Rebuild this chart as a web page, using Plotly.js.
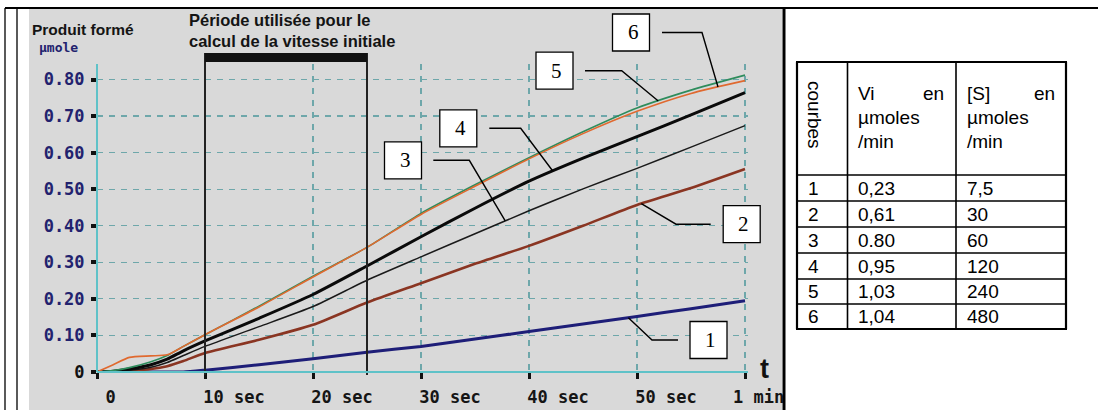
<!DOCTYPE html>
<html><head><meta charset="utf-8">
<script src="https://cdn.plot.ly/plotly-3.0.1.min.js"></script>
<style>html,body{margin:0;padding:0;background:#fff;overflow:hidden}#chart{width:1101px;height:410px}</style>
</head><body><div id="chart"></div>
<script>
// ---------- data ----------
const time   = [0, 1.5, 3, 5, 6.5, 8, 10, 15, 20, 25, 30, 35, 40, 45, 50, 55, 60];
const curve1 = [0, 0, 0, 0, 0, 0, 0.005, 0.02, 0.036, 0.054, 0.07, 0.09, 0.111, 0.131, 0.152, 0.173, 0.195];
const curve2 = [0, 0.001, 0.003, 0.008, 0.016, 0.03, 0.052, 0.088, 0.129, 0.19, 0.243, 0.296, 0.345, 0.40, 0.457, 0.503, 0.555];
const curve3 = [0, 0.002, 0.005, 0.013, 0.026, 0.045, 0.07, 0.124, 0.179, 0.251, 0.315, 0.378, 0.441, 0.501, 0.557, 0.615, 0.674];
const curve4 = [0, 0.002, 0.008, 0.02, 0.035, 0.058, 0.085, 0.147, 0.212, 0.29, 0.37, 0.448, 0.522, 0.585, 0.644, 0.703, 0.764];
const curve5 = [0, 0.004, 0.012, 0.028, 0.045, 0.07, 0.102, 0.18, 0.262, 0.341, 0.434, 0.512, 0.586, 0.657, 0.722, 0.771, 0.812];
const curve6 = [0, 0.02, 0.04, 0.044, 0.047, 0.07, 0.102, 0.178, 0.26, 0.341, 0.431, 0.508, 0.583, 0.652, 0.713, 0.762, 0.797];

const yTickVals = [0, 0.1, 0.2, 0.3, 0.4, 0.5, 0.6, 0.7, 0.8];
const yTickText = ['0', '0.10', '0.20', '0.30', '0.40', '0.50', '0.60', '0.70', '0.80'];
const xTickVals = [0, 10, 20, 30, 40, 50, 60];
const xTickText = ['0', '10 sec', '20 sec', '30 sec', '40 sec', '50 sec', '1 min'];

const periodStart = 10, periodEnd = 25;

const tableCurves = ['1', '2', '3', '4', '5', '6'];
const tableVi     = ['0,23', '0,61', '0.80', '0,95', '1,03', '1,04'];
const tableS      = ['7,5', '30', '60', '120', '240', '480'];

// ---------- geometry ----------
const W = 1101, H = 410, L = 97, R = 353, TOP = 64, B = 38;
const plotW = W - L - R, plotH = H - TOP - B;
const XR = plotW / 10.8;     // seconds spanned by plot width
const YR = plotH / 365.6;    // µmole spanned by plot height
const pX = px => (px - L) / plotW;          // pixel -> paper
const pY = py => (H - B - py) / plotH;
const dX = t => t / XR;                      // data -> paper
const dY = v => v / YR;
function valueAt(series, t) {
  for (let i = 1; i < time.length; i++) {
    if (t <= time[i]) {
      const f = (t - time[i - 1]) / (time[i] - time[i - 1]);
      return series[i - 1] + f * (series[i] - series[i - 1]);
    }
  }
  return series[series.length - 1];
}

const seriesList = [curve1, curve2, curve3, curve4, curve5, curve6];
const seriesStyle = [
  {color: '#1e1e78', width: 3},
  {color: '#8a3522', width: 2.6},
  {color: '#1a1a1a', width: 1.5},
  {color: '#0a0a0a', width: 3},
  {color: '#2e8c5c', width: 1.6},
  {color: '#e0692f', width: 1.6}
];
const traces = seriesList.map((s, i) => ({
  x: time, y: s, type: 'scatter', mode: 'lines',
  line: {color: seriesStyle[i].color, width: seriesStyle[i].width, shape: 'spline', smoothing: 0.6},
  hoverinfo: 'skip', showlegend: false
}));

const shapes = [];
const annotations = [];
const navy = '#22226e';

// photo background
shapes.push({type: 'rect', xref: 'paper', yref: 'paper', layer: 'below',
  x0: pX(29), x1: pX(782), y0: pY(9), y1: pY(410), fillcolor: '#d9d9d9', line: {width: 0}});

// period box
[periodStart, periodEnd].forEach(t => shapes.push({type: 'line', xref: 'paper', yref: 'paper', layer: 'above',
  x0: dX(t), x1: dX(t), y0: pY(53), y1: pY(375), line: {color: '#222', width: 2}}));
shapes.push({type: 'rect', xref: 'paper', yref: 'paper', layer: 'above',
  x0: dX(periodStart), x1: dX(periodEnd), y0: pY(62), y1: pY(53), fillcolor: '#111', line: {width: 0}});

// callouts
const callouts = [
  {label: '6', s: curve6, bx: 631, by: 32.5, sx: 662, ex: 702, t: 57.5},
  {label: '5', s: curve5, bx: 554.5, by: 70.7, sx: 585, ex: 621.7, t: 51.97},
  {label: '4', s: curve4, bx: 458.3, by: 128.3, sx: 489.3, ex: 520.7, t: 42.2},
  {label: '3', s: curve3, bx: 403, by: 160.3, sx: 433.3, ex: 469.3, t: 37.8},
  {label: '2', s: curve2, bx: 741.7, by: 224.2, sx: 710.7, ex: 676, t: 50.4},
  {label: '1', s: curve1, bx: 708.5, by: 340, sx: 678, ex: 652, t: 49.2}
];
callouts.forEach(c => {
  shapes.push({type: 'rect', xref: 'paper', yref: 'paper', layer: 'above',
    x0: pX(c.bx - 18.5), x1: pX(c.bx + 18.5), y0: pY(c.by + 18.5), y1: pY(c.by - 18.5),
    fillcolor: '#fff', line: {color: '#000', width: 1.3}});
  const path = `M ${pX(c.sx)} ${pY(c.by)} L ${pX(c.ex)} ${pY(c.by)} L ${dX(c.t)} ${dY(valueAt(c.s, c.t))}`;
  shapes.push({type: 'path', xref: 'paper', yref: 'paper', layer: 'above', path: path,
    line: {color: '#000', width: 1.4}});
  annotations.push({xref: 'paper', yref: 'paper', x: pX(c.bx + 2), y: pY(c.by), text: c.label, showarrow: false,
    xanchor: 'center', yanchor: 'middle', font: {family: 'Liberation Serif', size: 21, color: '#000'}});
});

// axis lines (teal)
shapes.push({type: 'line', xref: 'paper', yref: 'paper', layer: 'above', x0: 0, x1: 0, y0: 0, y1: 1,
  line: {color: '#5fc2c8', width: 2}});
shapes.push({type: 'line', xref: 'paper', yref: 'paper', layer: 'above', x0: 0, x1: 1, y0: 0, y1: 0,
  line: {color: '#5fc2c8', width: 2}});

// right white panel + frame lines
shapes.push({type: 'rect', xref: 'paper', yref: 'paper', layer: 'above',
  x0: pX(785), x1: pX(1101), y0: pY(410), y1: pY(9), fillcolor: '#fff', line: {width: 0}});
shapes.push({type: 'line', xref: 'paper', yref: 'paper', layer: 'above', x0: pX(5), x1: pX(1098), y0: pY(8), y1: pY(8), line: {color: '#000', width: 2}});
shapes.push({type: 'line', xref: 'paper', yref: 'paper', layer: 'above', x0: pX(5), x1: pX(5), y0: pY(8), y1: pY(410), line: {color: '#000', width: 1.3}});
shapes.push({type: 'line', xref: 'paper', yref: 'paper', layer: 'above', x0: pX(17), x1: pX(17), y0: pY(8), y1: pY(410), line: {color: '#000', width: 1.3}});
shapes.push({type: 'line', xref: 'paper', yref: 'paper', layer: 'above', x0: pX(784), x1: pX(784), y0: pY(8), y1: pY(410), line: {color: '#000', width: 3}});

// table
const colX = [797, 847.5, 956, 1066];
const rowY = [62, 175, 201, 227, 253, 279, 304, 329];
colX.forEach((x, i) => shapes.push({type: 'line', xref: 'paper', yref: 'paper', layer: 'above',
  x0: pX(x), x1: pX(x), y0: pY(62), y1: pY(329), line: {color: '#000', width: (i === 0 || i === 3) ? 2.2 : 1.6}}));
rowY.forEach((y, i) => shapes.push({type: 'line', xref: 'paper', yref: 'paper', layer: 'above',
  x0: pX(796), x1: pX(1067), y0: pY(y), y1: pY(y), line: {color: '#000', width: (i === 0 || i === rowY.length - 1) ? 2.2 : 1.6}}));

const tFont = {family: 'Liberation Sans, Arial', size: 19, color: '#000'};
function txt(x, y, s, anchor, extra) {
  annotations.push(Object.assign({xref: 'paper', yref: 'paper', x: pX(x), y: pY(y), text: s, showarrow: false,
    xanchor: anchor || 'left', yanchor: 'middle', font: tFont, borderpad: 0, borderwidth: 0}, extra || {}));
}
txt(815, 115, 'courbes', 'center', {textangle: 90});
txt(858, 93.5, 'Vi'); txt(944, 93.5, 'en', 'right');
txt(858, 117.5, 'µmoles'); txt(858, 141.5, '/min');
txt(967, 93.5, '[S]'); txt(1055, 93.5, 'en', 'right');
txt(967, 117.5, 'µmoles'); txt(967, 141.5, '/min');
tableCurves.forEach((c, i) => {
  const yc = (rowY[i + 1] + rowY[i + 2]) / 2;
  txt(808, yc, c); txt(858, yc, tableVi[i]); txt(967, yc, tableS[i]);
});

// chart texts
const boldSans = {family: 'Liberation Sans, Arial', size: 16.5, color: '#141414', weight: 'bold'};
annotations.push({xref: 'paper', yref: 'paper', x: pX(32), y: pY(30), text: 'Produit formé', showarrow: false,
  xanchor: 'left', yanchor: 'middle', font: Object.assign({}, boldSans, {size: 15.5}), borderpad: 0, borderwidth: 0});
annotations.push({xref: 'paper', yref: 'paper', x: pX(39), y: pY(47.5), text: 'µmole', showarrow: false,
  xanchor: 'left', yanchor: 'middle', font: {family: 'DejaVu Sans Mono', size: 13, color: navy, weight: 'bold'}, borderpad: 0, borderwidth: 0});
annotations.push({xref: 'paper', yref: 'paper', x: pX(189), y: pY(20), text: 'Période utilisée pour le', showarrow: false,
  xanchor: 'left', yanchor: 'middle', font: boldSans, borderpad: 0, borderwidth: 0});
annotations.push({xref: 'paper', yref: 'paper', x: pX(189), y: pY(40.5), text: 'calcul de la vitesse initiale', showarrow: false,
  xanchor: 'left', yanchor: 'middle', font: boldSans, borderpad: 0, borderwidth: 0});
annotations.push({xref: 'paper', yref: 'paper', x: pX(764), y: pY(369), text: 't', showarrow: false,
  xanchor: 'center', yanchor: 'middle', font: {family: 'Liberation Sans, Arial', size: 27, color: '#111', weight: 'bold'}, borderpad: 0, borderwidth: 0});

const NB = '\u00a0';
const xLabels = xTickText.map((s, i) => i === 0 ? s + NB + NB + NB : (i === xTickText.length - 1 ? s + NB + NB + NB : s));
const yLabels = yTickText.map((s, i) => i === 0 ? `<span style="fill:#111">${s}</span>` : s);

const layout = {
  width: W, height: H,
  margin: {l: L, r: R, t: TOP, b: B, pad: 0},
  paper_bgcolor: '#ffffff', plot_bgcolor: 'rgba(0,0,0,0)',
  showlegend: false,
  xaxis: {
    range: [0, XR], tickvals: xTickVals, ticktext: xLabels,
    showline: false, zeroline: false, showgrid: true,
    gridcolor: '#6ea7aa', gridwidth: 1.2, griddash: '6px,6px',
    ticks: 'outside', ticklen: 6, tickwidth: 3, tickcolor: '#111',
    ticklabelshift: 29, ticklabelstandoff: 4,
    tickfont: {family: 'DejaVu Sans Mono', size: 17, color: '#151515', weight: 'bold'},
    fixedrange: true
  },
  yaxis: {
    range: [0, YR], tickvals: yTickVals, ticktext: yLabels,
    showline: false, zeroline: false, showgrid: true,
    gridcolor: '#6ea7aa', gridwidth: 1.2, griddash: '6px,6px',
    ticks: 'outside', ticklen: 5, tickwidth: 4, tickcolor: '#111',
    ticklabelstandoff: 3,
    tickfont: {family: 'DejaVu Sans Mono', size: 17, color: navy, weight: 'bold'},
    fixedrange: true
  },
  shapes: shapes,
  annotations: annotations
};

Plotly.newPlot('chart', traces, layout, {staticPlot: true, displayModeBar: false});
</script></body></html>
